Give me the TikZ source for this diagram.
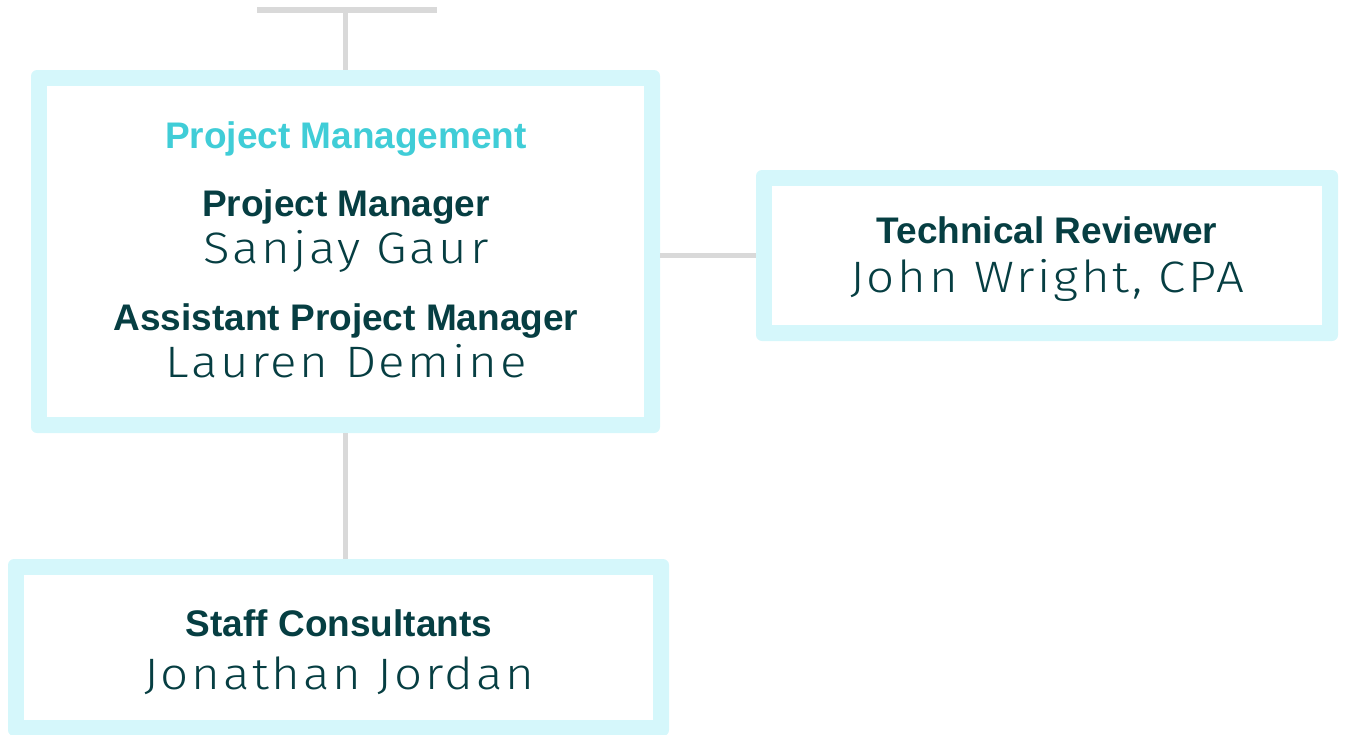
\documentclass[tikz,border=0pt]{standalone}
\usepackage{fontspec}
\setmainfont{Liberation Sans}
\newfontfamily\namefont[UprightFont={* Light},FakeStretch=1.12,LetterSpace=6]{Fira Sans}
\usetikzlibrary{calc}

\definecolor{boxcyan}{RGB}{213,247,251}
\definecolor{linegray}{RGB}{217,217,217}
\definecolor{headteal}{RGB}{64,205,215}
\definecolor{darkteal}{RGB}{6,62,66}

\tikzset{
	orgbox/.style={fill=boxcyan, rounded corners=6pt, inner sep=0pt,
		path picture={\fill[white, sharp corners] ([shift={(16pt,16pt)}]path picture bounding box.south west) rectangle ([shift={(-16pt,-16pt)}]path picture bounding box.north east);}},
	link/.style={draw=linegray, line width=5pt},
	unittitle/.style={anchor=base, text=headteal, font=\fontsize{37}{40}\selectfont\bfseries},
	roletitle/.style={anchor=base, text=darkteal, font=\fontsize{37}{40}\selectfont\bfseries},
	person/.style={anchor=base, text=darkteal, font=\fontsize{44}{46}\namefont},
}

\begin{document}
\begin{tikzpicture}[x=1pt, y=-1pt]
		\useasboundingbox (0, 0) rectangle (1348, 734);
		
		%%%%% BOXES %%%%%
		\node[orgbox, minimum width=629pt, minimum height=363pt] (mgmt) at (345.5, 251.5) {};
		\node[orgbox, minimum width=582pt, minimum height=171pt] (review) at (1047, 255.5) {};
		\node[orgbox, minimum width=661pt, minimum height=177pt] (staff) at (338.5, 647.5) {};
		
		%%%%% LINKS %%%%%
		\coordinate (barL) at (257, 9.5);
		\coordinate (barR) at (437, 9.5);
		\draw[link, line width=6pt] (barL) -- (barR);
		\draw[link] (mgmt.north) -- (mgmt.north |- barL);
		\draw[link] (review.west) -- (review.west -| mgmt.east);
		\draw[link] (mgmt.south) -- (mgmt.south |- staff.north);
		
		%%%%% TEXT %%%%%
		\node[unittitle] (mgmthead) at (346, 148) {Project Management};
		\node[roletitle] (pmrole) at (346, 216) {Project Manager};
		\node[person] (pmname) at (346, 263) {Sanjay Gaur};
		\node[roletitle] (apmrole) at (346, 330) {Assistant Project Manager};
		\node[person] (apmname) at (346, 377) {Lauren Demine};
		
		\node[roletitle] (trrole) at (1047, 243) {Technical Reviewer};
		\node[person] (trname) at (1047, 292) {John Wright, CPA};
		
		\node[roletitle] (scrole) at (339, 636) {Staff Consultants};
		\node[person] (scname) at (339, 689) {Jonathan Jordan};
\end{tikzpicture}
\end{document}
